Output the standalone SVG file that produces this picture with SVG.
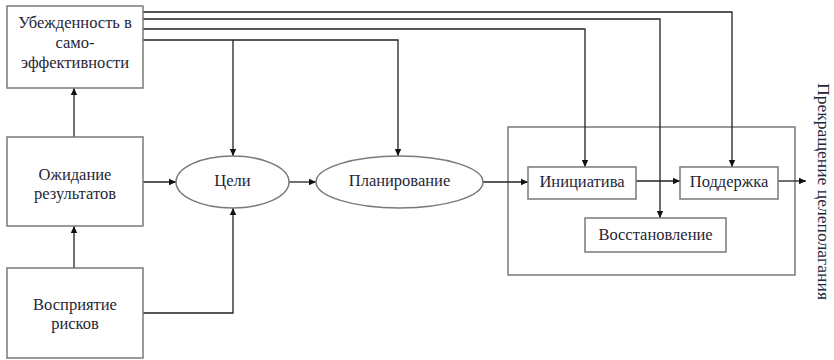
<svg xmlns="http://www.w3.org/2000/svg" width="834" height="360" viewBox="0 0 834 360" font-family="'Liberation Serif', 'Times New Roman', serif">
<defs>
<marker id="arr" markerWidth="8" markerHeight="8" refX="7" refY="4" orient="auto" markerUnits="userSpaceOnUse">
<path d="M0,0.8 L7,4 L0,7.2 Z" fill="#111"/>
</marker>
<style>
.box{fill:#fff;stroke:#7a7a7a;stroke-width:1.5}
.t{font-family:'Liberation Serif','Times New Roman',serif;font-size:16.5px;fill:#262636;text-anchor:middle}
.v{font-family:'Liberation Serif','Times New Roman',serif;font-size:16px;fill:#262636;text-anchor:start}
.c{fill:none;stroke:#222;stroke-width:1.3}
</style>
</defs>
<rect width="834" height="360" fill="#fff"/>
<g id="container"><rect class="box" x="508" y="127" width="287" height="148"/></g>
<g id="connectors">
<path class="c" d="M143,12 H732 V167" marker-end="url(#arr)"/>
<path class="c" d="M143,19 H660 V218" marker-end="url(#arr)"/>
<path class="c" d="M143,29 H585 V167" marker-end="url(#arr)"/>
<path class="c" d="M143,40 H398 V156" marker-end="url(#arr)"/>
<path class="c" d="M233,40 V156" marker-end="url(#arr)"/>
<path class="c" d="M74,137 V88" marker-end="url(#arr)"/>
<path class="c" d="M74,268 V226" marker-end="url(#arr)"/>
<path class="c" d="M143,182 H176" marker-end="url(#arr)"/>
<path class="c" d="M143,313 H233 V208" marker-end="url(#arr)"/>
<path class="c" d="M289,182 H316" marker-end="url(#arr)"/>
<path class="c" d="M483,182 H528" marker-end="url(#arr)"/>
<path class="c" d="M636,181 H680" marker-end="url(#arr)"/>
<path class="c" d="M778,181 H806" marker-end="url(#arr)"/>
</g>
<g id="self-efficacy"><rect class="box" x="7" y="6" width="136" height="82"/>
<text class="t" x="75" y="28">Убежденность в</text>
<text class="t" x="75" y="48">само-</text>
<text class="t" x="75" y="68">эффективности</text></g>
<g id="outcome"><rect class="box" x="7" y="137" width="136" height="89"/>
<text class="t" x="75" y="180">Ожидание</text>
<text class="t" x="75" y="199">результатов</text></g>
<g id="risk"><rect class="box" x="7" y="268" width="136" height="90"/>
<text class="t" x="75" y="310">Восприятие</text>
<text class="t" x="75" y="329">рисков</text></g>
<g id="goals"><ellipse class="box" cx="232.5" cy="182" rx="56.5" ry="26"/>
<text class="t" x="232.5" y="186">Цели</text></g>
<g id="planning"><ellipse class="box" cx="399.5" cy="182" rx="83.5" ry="26"/>
<text class="t" x="399.5" y="186">Планирование</text></g>
<g id="initiative"><rect class="box" x="528" y="167" width="108" height="32"/>
<text class="t" x="582" y="187">Инициатива</text></g>
<g id="support"><rect class="box" x="680" y="167" width="98" height="32"/>
<text class="t" x="729" y="187">Поддержка</text></g>
<g id="recovery"><rect class="box" x="585" y="218" width="141" height="34"/>
<text class="t" x="655.5" y="240">Восстановление</text></g>
<g id="termination"><text class="v" transform="translate(818,83) rotate(90)" x="0" y="0" textLength="217" lengthAdjust="spacingAndGlyphs">Прекращение целеполагания</text></g>
</svg>
